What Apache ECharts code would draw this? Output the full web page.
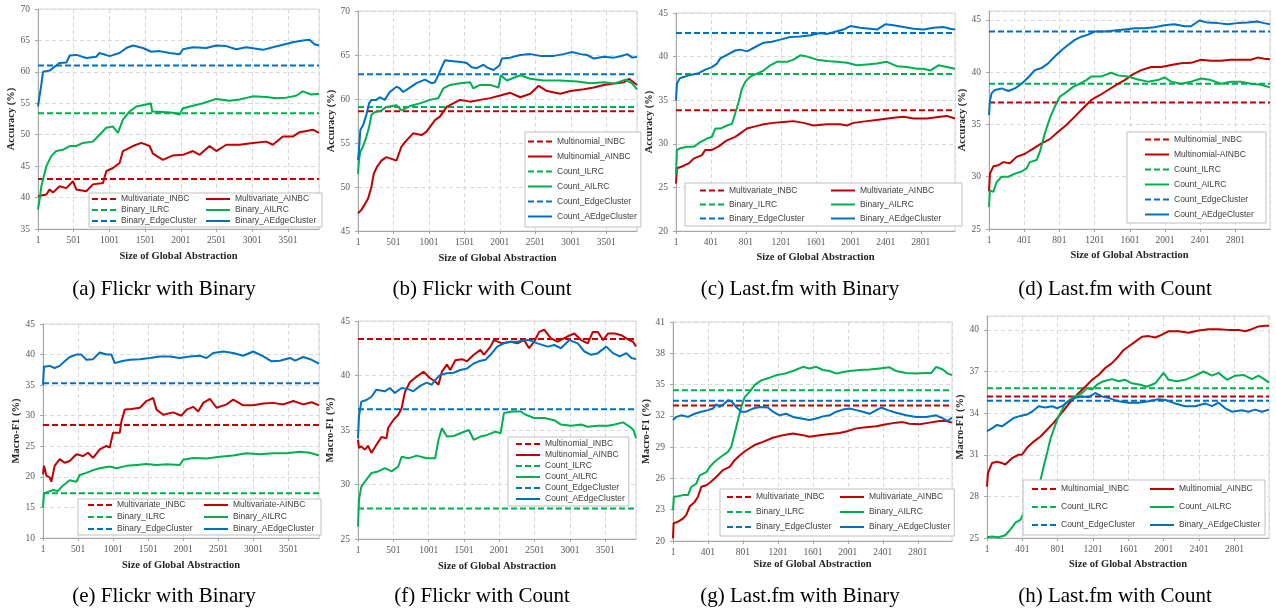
<!DOCTYPE html>
<html>
<head>
<meta charset="utf-8">
<title>Accuracy and Macro-F1 vs size of global abstraction</title>
<script src="https://cdn.jsdelivr.net/npm/echarts@6/dist/echarts.min.js"></script>
<style>
  html, body { margin: 0; padding: 0; background: #fff; }
  #chart { width: 1276px; height: 610px; }
</style>
</head>
<body>
<div id="chart"></div>
<script>
// values: [size of global abstraction, value]
// (a) Flickr with Binary - accuracy
var aRed = [[1,40.2],[118,40.5],[164,41.3],[211,40.8],[304,41.8],[397,41.5],[491,42.6],[537,41.3],[677,41.0],[770,42.1],[910,42.3],[957,44.2],[1050,44.7],[1143,45.5],[1190,47.4],[1330,48.2],[1447,48.7],[1563,48.2],[1610,47.0],[1750,46.0],[1890,46.7],[2030,46.8],[2170,47.4],[2263,46.8],[2403,48.2],[2496,47.4],[2636,48.4],[2823,48.4],[3009,48.7],[3196,48.9],[3289,48.4],[3429,49.7],[3569,49.7],[3662,50.4],[3849,50.8],[3935,50.3]];
var aGreen = [[1,38.1],[24,39.7],[48,41.8],[94,43.9],[118,45.0],[187,46.6],[257,47.4],[350,47.6],[443,48.2],[537,48.2],[630,48.7],[770,48.9],[863,50.0],[957,51.1],[1050,51.3],[1120,50.3],[1190,52.4],[1283,53.7],[1377,54.5],[1517,54.8],[1580,55.0],[1600,53.7],[1750,53.6],[1890,53.5],[1983,53.2],[2030,54.2],[2170,54.6],[2310,55.0],[2496,55.7],[2683,55.4],[2823,55.6],[3009,56.1],[3196,56.0],[3335,55.8],[3475,55.9],[3615,56.2],[3709,56.9],[3825,56.4],[3935,56.5]];
var aBlue = [[1,54.5],[48,58.0],[71,60.0],[165,60.2],[300,61.4],[400,61.5],[445,62.6],[540,62.7],[677,62.2],[817,62.4],[862,63.0],[1003,62.5],[1143,63.0],[1237,63.8],[1330,64.2],[1470,63.8],[1587,63.2],[1703,63.3],[1843,63.0],[1983,62.8],[2030,63.6],[2170,63.9],[2356,63.8],[2496,64.2],[2636,64.1],[2776,63.6],[2916,63.9],[3149,63.5],[3289,63.9],[3429,64.3],[3569,64.7],[3709,65.0],[3802,65.1],[3872,64.4],[3935,64.2]];
var aBase = [42.95, 53.4, 61.0];

// (b) Flickr with Count - accuracy
var bRed = [[1,47.0],[48,47.4],[95,48.0],[143,48.7],[190,50.0],[223,51.5],[270,52.3],[331,53.0],[402,53.4],[473,53.2],[543,53.0],[614,54.6],[685,55.3],[779,56.1],[897,55.9],[968,56.3],[1086,57.6],[1157,58.0],[1251,59.1],[1345,59.5],[1440,59.9],[1581,59.7],[1723,59.9],[1864,60.1],[2006,60.4],[2147,60.7],[2289,60.2],[2430,60.6],[2548,61.5],[2666,60.9],[2855,60.6],[2996,60.9],[3185,61.1],[3326,61.3],[3468,61.6],[3610,61.75],[3751,61.9],[3822,62.3],[3935,61.6]];
var bGreen = [[1,51.5],[15,53.05],[34,54.0],[72,54.6],[119,55.7],[157,56.8],[190,58.2],[237,58.5],[331,58.7],[402,59.1],[543,59.3],[614,58.7],[732,59.2],[874,59.5],[1015,59.9],[1133,60.1],[1204,61.2],[1298,61.6],[1440,61.8],[1581,61.9],[1628,61.2],[1723,61.6],[1864,61.6],[1982,61.3],[2015,62.7],[2100,62.1],[2289,62.7],[2430,62.3],[2619,62.1],[2855,62.1],[3091,62.0],[3280,61.8],[3468,61.9],[3610,61.75],[3775,62.2],[3869,61.75],[3935,61.1]];
var bBlue = [[1,53.05],[15,54.2],[34,56.5],[72,57.0],[119,58.2],[157,59.5],[190,59.9],[260,59.9],[308,60.2],[378,59.9],[449,60.8],[543,61.4],[591,61.2],[638,60.8],[732,61.3],[826,61.8],[944,62.2],[1039,61.8],[1086,61.9],[1133,62.7],[1180,63.6],[1227,64.4],[1345,64.3],[1463,64.2],[1534,64.1],[1605,63.6],[1676,63.5],[1770,63.9],[1817,63.6],[1911,63.3],[1996,63.8],[2029,64.6],[2147,64.7],[2289,65.0],[2430,65.1],[2572,64.9],[2760,64.9],[2902,65.1],[3020,65.35],[3138,65.1],[3232,65.0],[3326,64.6],[3468,64.8],[3610,64.7],[3704,64.85],[3798,65.1],[3869,64.7],[3935,64.8]];
var bBase = [58.6, 59.1, 62.8];

// (c) Last.fm with Binary - accuracy
var cRed = [[1,25.45],[12,27.2],[70,27.4],[146,27.75],[203,28.3],[298,28.7],[336,29.3],[412,29.3],[489,29.7],[584,30.4],[679,30.8],[736,31.2],[813,31.75],[908,32.0],[1003,32.25],[1117,32.4],[1232,32.5],[1346,32.6],[1460,32.4],[1575,32.1],[1727,32.25],[1879,32.25],[1956,32.1],[2032,32.4],[2184,32.6],[2337,32.8],[2489,33.0],[2603,33.1],[2718,32.9],[2870,32.9],[3022,33.1],[3098,33.2],[3192,32.9]];
var cGreen = [[1,26.5],[12,29.3],[50,29.5],[127,29.65],[203,29.65],[279,30.2],[355,30.6],[412,30.8],[450,31.75],[508,31.75],[584,32.1],[641,32.3],[679,33.5],[717,34.8],[755,36.3],[793,37.1],[851,37.7],[927,38.05],[1003,38.4],[1079,39.0],[1155,39.4],[1270,39.4],[1346,39.65],[1422,40.15],[1498,40.0],[1613,39.65],[1727,39.5],[1841,39.4],[1956,39.3],[2070,39.0],[2184,39.1],[2299,39.2],[2413,39.4],[2527,38.9],[2641,38.8],[2756,38.6],[2832,38.6],[2908,38.4],[3003,39.0],[3098,38.8],[3192,38.6]];
var cBlue = [[1,35.0],[12,36.9],[43,37.5],[70,37.6],[165,37.9],[260,38.1],[336,38.5],[412,38.8],[470,39.2],[508,39.8],[584,40.2],[679,40.7],[736,40.8],[813,40.6],[908,41.1],[1003,41.6],[1098,41.7],[1194,41.95],[1308,42.25],[1422,42.3],[1537,42.45],[1651,42.7],[1727,42.6],[1803,42.8],[1917,43.1],[1994,43.5],[2108,43.3],[2222,43.2],[2299,43.1],[2394,43.7],[2489,43.6],[2603,43.4],[2718,43.2],[2832,43.1],[2946,43.3],[3060,43.4],[3137,43.2],[3192,43.1]];
var cBase = [33.85, 38.0, 42.7];

// (d) Last.fm with Count - accuracy
var dRed = [[1,28.6],[12,30.3],[50,31.0],[107,31.1],[163,31.4],[239,31.3],[314,31.9],[409,32.2],[503,32.7],[597,33.2],[692,33.6],[786,34.3],[880,34.95],[975,35.75],[1069,36.55],[1163,37.35],[1258,37.8],[1352,38.3],[1447,38.8],[1541,39.25],[1635,39.8],[1729,40.2],[1843,40.5],[1956,40.5],[2069,40.7],[2182,40.85],[2296,40.9],[2409,41.2],[2522,41.1],[2635,41.1],[2748,41.2],[2862,41.2],[2975,41.2],[3050,41.4],[3126,41.3],[3192,41.25]];
var dGreen = [[1,27.1],[12,28.7],[50,28.55],[88,29.5],[144,30.0],[220,30.0],[295,30.3],[371,30.5],[428,30.8],[465,31.4],[541,31.6],[579,32.4],[635,34.15],[692,35.6],[748,36.7],[805,37.65],[880,38.1],[956,38.6],[1031,38.9],[1107,39.25],[1163,39.6],[1277,39.6],[1390,39.95],[1465,39.7],[1578,39.6],[1692,39.3],[1805,39.1],[1918,39.25],[1994,39.5],[2069,39.1],[2182,38.9],[2296,39.1],[2409,39.4],[2522,39.25],[2635,38.9],[2748,39.1],[2862,39.1],[2975,38.9],[3088,38.8],[3192,38.55]];
var dBlue = [[1,35.9],[12,37.3],[31,38.0],[69,38.3],[144,38.45],[220,38.2],[295,38.45],[371,38.9],[446,39.5],[522,40.2],[597,40.4],[673,40.85],[748,41.5],[824,42.1],[899,42.6],[975,43.1],[1050,43.4],[1126,43.6],[1201,43.9],[1314,43.9],[1428,44.0],[1541,44.1],[1654,44.2],[1767,44.2],[1880,44.3],[1994,44.5],[2107,44.6],[2220,44.4],[2296,44.4],[2390,44.95],[2484,44.75],[2598,44.7],[2711,44.6],[2824,44.7],[2937,44.75],[3050,44.85],[3126,44.7],[3192,44.6]];
var dBase = [37.1, 38.9, 43.9];

// (e) Flickr with Binary - macro-F1
var eRed = [[1,20.4],[15,21.8],[49,20.2],[96,19.9],[120,19.2],[167,21.8],[239,22.9],[310,22.3],[382,22.6],[477,23.7],[572,23.4],[643,23.95],[715,23.1],[810,24.5],[905,25.05],[952,24.8],[1000,27.2],[1095,27.2],[1119,29.1],[1167,31.0],[1262,31.1],[1381,31.3],[1476,32.4],[1571,32.9],[1618,31.0],[1714,30.15],[1856,30.55],[1975,30.0],[2047,31.0],[2142,31.45],[2213,30.7],[2285,32.1],[2380,32.75],[2475,31.3],[2618,31.85],[2712,32.65],[2855,31.7],[2998,31.7],[3141,32.0],[3283,32.1],[3426,31.85],[3569,32.4],[3711,31.85],[3830,32.2],[3935,31.7]];
var eGreen = [[1,15.0],[15,17.3],[72,17.55],[144,17.85],[215,17.7],[286,18.6],[382,19.45],[477,19.2],[524,20.3],[619,20.65],[715,21.1],[810,21.4],[952,21.7],[1048,21.4],[1190,21.8],[1333,21.95],[1476,22.1],[1618,21.95],[1761,22.05],[1951,21.95],[1999,22.8],[2142,23.1],[2332,23.0],[2522,23.3],[2712,23.5],[2902,23.85],[3093,23.7],[3283,23.85],[3473,23.85],[3663,24.1],[3806,23.95],[3935,23.5]];
var eBlue = [[1,35.05],[15,38.05],[49,38.05],[96,38.15],[167,37.8],[239,38.15],[310,38.9],[382,39.6],[477,40.0],[548,40.0],[619,39.15],[715,39.25],[810,40.35],[905,40.0],[976,40.0],[1024,38.6],[1119,38.9],[1238,39.15],[1381,39.25],[1523,39.45],[1666,39.7],[1809,39.7],[1951,39.45],[2094,39.7],[2237,39.8],[2332,39.45],[2427,40.25],[2570,40.5],[2712,40.25],[2855,39.8],[2998,40.5],[3141,39.7],[3260,38.9],[3378,39.0],[3521,39.45],[3593,39.0],[3711,39.6],[3830,39.15],[3935,38.5]];
var eBase = [28.5, 17.3, 35.3];

// (f) Flickr with Count - macro-F1
var fRed = [[1,34.1],[15,33.35],[48,33.5],[96,33.2],[143,33.55],[191,32.9],[262,33.65],[333,34.35],[405,34.25],[428,35.2],[500,35.9],[571,36.4],[618,37.0],[666,38.5],[737,39.4],[832,39.9],[927,40.35],[1022,39.75],[1093,39.45],[1140,39.15],[1188,40.35],[1259,41.0],[1307,40.5],[1378,41.4],[1473,41.5],[1544,41.3],[1639,41.9],[1734,42.35],[1781,41.9],[1876,42.65],[1924,43.25],[2043,42.95],[2161,43.1],[2256,42.95],[2351,43.25],[2422,42.5],[2494,43.1],[2565,44.0],[2636,44.2],[2731,43.4],[2826,43.1],[2968,43.6],[3063,43.85],[3158,43.25],[3253,42.95],[3324,44.0],[3396,44.0],[3467,43.25],[3538,43.85],[3633,43.85],[3728,43.7],[3823,43.3],[3894,43.1],[3935,42.65]];
var fGreen = [[1,26.15],[15,28.6],[48,29.8],[120,30.45],[191,31.05],[286,31.2],[381,31.5],[476,31.2],[571,31.65],[618,32.55],[713,32.4],[832,32.65],[974,32.4],[1093,32.4],[1140,34.1],[1188,35.15],[1259,34.4],[1354,34.45],[1449,34.7],[1568,35.0],[1639,34.1],[1734,34.4],[1829,34.55],[1947,34.85],[2019,34.7],[2066,36.55],[2185,36.7],[2304,36.7],[2375,36.4],[2494,36.1],[2636,36.1],[2778,35.9],[2873,35.5],[3016,35.4],[3158,35.5],[3253,35.3],[3396,35.4],[3538,35.4],[3633,35.5],[3752,35.7],[3847,35.3],[3900,35.0],[3935,34.25]];
var fBlue = [[1,34.25],[15,36.25],[48,37.6],[120,37.75],[191,38.05],[262,38.7],[381,38.55],[452,38.85],[523,38.4],[618,38.85],[713,38.75],[784,38.55],[879,39.05],[974,39.35],[1045,39.15],[1093,39.6],[1164,40.05],[1259,40.2],[1354,40.25],[1449,40.5],[1544,40.65],[1639,41.1],[1710,41.3],[1805,41.45],[1876,41.9],[1971,42.65],[2066,42.95],[2161,43.1],[2256,43.1],[2327,43.2],[2422,43.25],[2541,42.95],[2683,42.65],[2778,42.8],[2873,42.5],[2992,43.25],[3111,42.95],[3206,42.2],[3301,41.9],[3396,42.05],[3514,42.65],[3609,42.05],[3704,41.75],[3799,42.05],[3870,41.6],[3935,41.5]];
var fBase = [43.35, 27.8, 36.9];

// (g) Last.fm with Binary - macro-F1
var gRed = [[1,20.25],[8,21.7],[58,21.85],[115,22.15],[153,22.5],[191,23.3],[249,23.75],[287,24.25],[325,25.2],[382,25.35],[439,25.7],[515,26.3],[572,26.8],[649,27.1],[706,27.75],[763,28.2],[839,28.7],[934,29.2],[1030,29.5],[1144,29.9],[1258,30.15],[1373,30.3],[1487,30.15],[1563,30.0],[1677,30.15],[1792,30.25],[1906,30.35],[1982,30.5],[2097,30.8],[2211,30.9],[2325,31.0],[2440,31.2],[2554,31.35],[2630,31.4],[2706,31.25],[2821,31.2],[2935,31.35],[3049,31.5],[3125,31.5],[3192,31.35]];
var gGreen = [[1,22.95],[12,24.25],[58,24.3],[115,24.4],[172,24.4],[210,25.2],[268,25.5],[306,26.3],[382,26.6],[420,27.1],[477,27.6],[553,28.1],[630,28.55],[668,29.05],[706,30.3],[744,31.6],[782,32.85],[820,33.8],[877,34.3],[934,34.95],[1010,35.4],[1087,35.6],[1182,35.9],[1277,36.05],[1373,36.3],[1487,36.7],[1563,36.55],[1639,36.7],[1716,36.4],[1792,36.3],[1868,36.05],[1944,36.2],[2020,36.3],[2135,36.4],[2249,36.45],[2363,36.55],[2478,36.65],[2554,36.3],[2668,36.1],[2782,36.05],[2897,36.1],[2954,36.1],[3011,36.7],[3087,36.45],[3144,36.05],[3192,35.9]];
var gBlue = [[1,31.6],[39,31.9],[96,32.05],[172,31.9],[249,32.2],[325,32.4],[401,32.55],[458,32.7],[496,33.1],[534,32.85],[592,33.2],[630,33.5],[668,33.4],[725,32.85],[782,32.4],[839,32.4],[915,32.7],[992,32.85],[1087,32.8],[1144,32.4],[1220,32.05],[1296,32.2],[1373,31.9],[1468,31.75],[1563,31.6],[1639,31.75],[1716,31.95],[1792,32.05],[1868,32.4],[1944,32.6],[2020,32.7],[2097,32.55],[2173,32.4],[2249,32.2],[2325,32.55],[2382,32.8],[2458,32.55],[2554,32.3],[2668,32.05],[2782,31.9],[2897,31.9],[3011,32.05],[3087,31.75],[3144,31.5],[3192,31.85]];
var gBase = [33.0, 34.45, 33.45];

// (h) Last.fm with Count - macro-F1
var hRed = [[1,28.7],[12,29.7],[58,30.4],[114,30.5],[171,30.4],[208,30.3],[284,30.75],[359,31.0],[397,31.0],[453,31.5],[529,31.95],[604,32.3],[680,32.8],[755,33.3],[812,33.75],[887,34.35],[962,34.95],[1038,35.45],[1113,35.9],[1189,36.4],[1264,36.75],[1339,37.25],[1415,37.6],[1490,38.1],[1547,38.55],[1603,38.8],[1679,39.15],[1754,39.5],[1829,39.55],[1905,39.45],[1980,39.65],[2056,39.9],[2169,39.9],[2282,39.8],[2395,39.95],[2508,40.05],[2621,40.05],[2734,40.0],[2847,40.0],[2922,39.9],[2997,40.05],[3073,40.25],[3148,40.3],[3192,40.3]];
var hGreen = [[1,25.05],[58,25.1],[133,25.05],[208,25.2],[265,25.6],[322,26.1],[378,26.3],[435,27.05],[491,27.4],[548,28.0],[604,29.1],[642,30.15],[680,31.1],[717,32.1],[755,32.8],[793,33.5],[831,34.0],[887,34.7],[944,35.0],[1000,35.2],[1076,35.45],[1132,35.8],[1189,35.7],[1245,36.05],[1320,36.3],[1415,36.45],[1490,36.3],[1565,36.4],[1641,36.15],[1735,36.05],[1810,35.9],[1905,36.15],[1999,36.9],[2056,36.4],[2150,36.3],[2244,36.4],[2357,36.7],[2451,37.0],[2546,36.7],[2621,36.9],[2716,36.4],[2810,36.7],[2904,36.75],[2997,36.45],[3073,36.7],[3148,36.4],[3192,36.2]];
var hBlue = [[1,32.7],[58,32.9],[114,33.15],[171,33.05],[227,33.3],[303,33.65],[378,33.8],[453,33.9],[510,34.1],[585,34.5],[661,34.4],[736,34.5],[793,34.35],[849,34.5],[925,34.85],[1000,35.1],[1076,35.2],[1151,35.15],[1226,35.45],[1302,35.2],[1377,35.1],[1490,34.85],[1603,34.75],[1716,34.75],[1829,34.85],[1942,35.0],[2018,34.95],[2131,34.7],[2244,34.5],[2357,34.5],[2470,34.7],[2546,34.5],[2621,34.75],[2697,34.35],[2772,34.1],[2885,34.2],[2960,34.1],[3035,34.25],[3111,34.1],[3192,34.25]];
var hBase = [35.2, 35.8, 34.9];

// legend names, in legend order (baseline, adaptive) x (NB, LR, EdgeCluster)
var namesMultivariate = ['Multivariate_INBC', 'Multivariate_AINBC', 'Binary_ILRC', 'Binary_AILRC', 'Binary_EdgeCluster', 'Binary_AEdgeCluster'];
var namesMultinomial = ['Multinomial_INBC', 'Multinomial_AINBC', 'Count_ILRC', 'Count_AILRC', 'Count_EdgeCluster', 'Count_AEdgeCluster'];
var namesD = ['Multinomial_INBC', 'Multinomial-AINBC', 'Count_ILRC', 'Count_AILRC', 'Count_EdgeCluster', 'Count_AEdgeCluster'];
var namesE = ['Multivariate_INBC', 'Multivariate-AINBC', 'Binary_ILRC', 'Binary_AILRC', 'Binary_EdgeCluster', 'Binary_AEdgeCluster'];
var namesH = ['Multinomial_INBC', 'Multinomial_AINBC', 'Count_ILRC', 'Count_AILRC', 'Count_EdgeCluster', 'Binary_AEdgeCluster'];

var colors = ['#c00000', '#00b050', '#0070c0'];

// layout of the eight panels
var panels = [
  {grid: [38, 9, 281, 220], xMax: 3935, xStep: 500, yMin: 35, yMax: 70, yStep: 5, yName: 'Accuracy (%)', yGap: 20, xGap: 22,
   lines: [aRed, aGreen, aBlue], base: aBase, names: namesMultivariate, caption: '(a) Flickr with Binary', cap: [164, 289],
   legend: {left: 89, top: 193, cols: 2, textW: 83, lh: 10, gap: 1, pad: [1, 4, 1, 2]}},
  {grid: [358, 11, 279, 220], xMax: 3935, xStep: 500, yMin: 45, yMax: 70, yStep: 5, yName: 'Accuracy (%)', yGap: 20, xGap: 22,
   lines: [bRed, bGreen, bBlue], base: bBase, names: namesMultinomial, caption: '(b) Flickr with Count', cap: [482, 289],
   legend: {left: 525, top: 132, cols: 1, textW: 76, lh: 11, gap: 4, pad: [4, 4, 5, 2]}},
  {grid: [676, 13, 279, 218], xMax: 3192, xStep: 400, yMin: 20, yMax: 45, yStep: 5, yName: 'Accuracy (%)', yGap: 20, xGap: 21,
   lines: [cRed, cGreen, cBlue], base: cBase, names: namesMultivariate, caption: '(c) Last.fm with Binary', cap: [800, 289],
   legend: {left: 685, top: 183, cols: 2, textW: 98, lh: 11, gap: 3, pad: [2, 4, 2, 14]}},
  {grid: [989, 11, 281, 218], xMax: 3192, xStep: 400, yMin: 25, yMax: 45.86, yStep: 5, yName: 'Accuracy (%)', yGap: 21, xGap: 21,
   lines: [dRed, dGreen, dBlue], base: dBase, names: namesD, caption: '(d) Last.fm with Count', cap: [1115, 289],
   legend: {left: 1127, top: 132, cols: 1, textW: 88, lh: 11, gap: 4, pad: [2, 4, 3, 17]}},
  {grid: [43, 324, 276, 214], xMax: 3935, xStep: 500, yMin: 10, yMax: 45, yStep: 5, yName: 'Macro-F1 (%)', yGap: 17, xGap: 22,
   lines: [eRed, eGreen, eBlue], base: eBase, names: namesE, caption: '(e) Flickr with Binary', cap: [164, 596],
   legend: {left: 78, top: 499, cols: 2, textW: 84, lh: 10, gap: 2, pad: [1, 4, 1, 9]}},
  {grid: [358, 321, 278, 218], xMax: 3935, xStep: 500, yMin: 25, yMax: 45, yStep: 5, yName: 'Macro-F1 (%)', yGap: 22, xGap: 22,
   lines: [fRed, fGreen, fBlue], base: fBase, names: namesMultinomial, caption: '(f) Flickr with Count', cap: [482, 596],
   legend: {left: 508, top: 437, cols: 1, textW: 73, lh: 10, gap: 1, pad: [2, 4, 2, 7]}},
  {grid: [673, 322, 279, 219], xMax: 3192, xStep: 400, yMin: 20, yMax: 41, yStep: 3, yName: 'Macro-F1 (%)', yGap: 20, xGap: 18,
   lines: [gRed, gGreen, gBlue], base: gBase, names: namesMultivariate, caption: '(g) Last.fm with Binary', cap: [800, 596],
   legend: {left: 720, top: 489, cols: 2, textW: 80, lh: 12, gap: 3, pad: [2, 4, 3, 6]}},
  {grid: [987, 316, 282, 222], xMax: 3192, xStep: 400, yMin: 25, yMax: 41, yStep: 3, yName: 'Macro-F1 (%)', yGap: 19, xGap: 21,
   lines: [hRed, hGreen, hBlue], base: hBase, names: namesH, caption: '(h) Last.fm with Count', cap: [1115, 596],
   legend: {left: 1023, top: 480, cols: 2, textW: 82, lh: 12, gap: 6, pad: [3, 4, 4, 8]}}
];

var tickFont = {fontFamily: 'Liberation Serif', fontSize: 9.5, color: '#595959'};
var nameFont = {fontFamily: 'Liberation Serif', fontSize: 10.5, fontWeight: 'bold', color: '#262626'};

var grids = [], xAxes = [], yAxes = [], series = [], legends = [], captions = [];

panels.forEach(function (p, i) {
  grids.push({
    left: p.grid[0], top: p.grid[1], width: p.grid[2], height: p.grid[3],
    show: true, borderColor: '#d9d9d9', borderWidth: 1, backgroundColor: 'transparent'
  });

  // axes count from 0; labels add the start value back so ticks land on 1, 501, ... / 20, 23, ...
  var yRange = p.yMax - p.yMin;
  var yOnTick = Math.abs(yRange / p.yStep - Math.round(yRange / p.yStep)) < 1e-6;
  xAxes.push({
    gridIndex: i, type: 'value', min: 0, max: p.xMax - 1, interval: p.xStep,
    name: 'Size of Global Abstraction', nameLocation: 'middle', nameGap: p.xGap, nameTextStyle: nameFont,
    axisLine: {show: true, lineStyle: {color: '#a6a6a6'}},
    axisTick: {show: true, length: 3, lineStyle: {color: '#a6a6a6'}},
    axisLabel: Object.assign({margin: 6, showMaxLabel: false, formatter: function (v) { return String(Math.round(v + 1)); }}, tickFont),
    splitLine: {show: true, lineStyle: {color: '#d9d9d9', type: [4, 3]}}
  });
  yAxes.push({
    gridIndex: i, type: 'value', min: 0, max: yRange, interval: p.yStep,
    name: p.yName, nameLocation: 'middle', nameGap: p.yGap, nameTextStyle: nameFont,
    axisLine: {show: true, lineStyle: {color: '#a6a6a6'}},
    axisTick: {show: true, length: 3, lineStyle: {color: '#a6a6a6'}},
    axisLabel: Object.assign({margin: 8, showMaxLabel: yOnTick, formatter: function (v) { return String(Math.round(v + p.yMin)); }}, tickFont),
    splitLine: {show: true, lineStyle: {color: '#d9d9d9', type: [4, 3]}}
  });

  p.lines.forEach(function (line, k) {
    series.push({
      type: 'line', name: p.names[2 * k], xAxisIndex: i, yAxisIndex: i,
      symbol: 'none', silent: true, animation: false,
      itemStyle: {color: colors[k]},
      lineStyle: {color: colors[k], width: 2, type: [6, 3]},
      data: [[0, p.base[k] - p.yMin], [p.xMax - 1, p.base[k] - p.yMin]]
    });
  });
  p.lines.forEach(function (line, k) {
    series.push({
      type: 'line', name: p.names[2 * k + 1], xAxisIndex: i, yAxisIndex: i,
      symbol: 'none', silent: true, animation: false,
      itemStyle: {color: colors[k]},
      lineStyle: {color: colors[k], width: 2},
      data: line.map(function (pt) { return [pt[0] - 1, pt[1] - p.yMin]; })
    });
  });

  var L = p.legend;
  var itemW = 24;
  legends.push({
    data: p.names.slice(), left: L.left, top: L.top,
    orient: L.cols === 2 ? 'horizontal' : 'vertical',
    width: L.cols === 2 ? 2 * (itemW + 5 + L.textW) + L.gap + 4 : null,
    itemWidth: itemW, itemHeight: 8, itemGap: L.gap, padding: L.pad,
    backgroundColor: '#fff', borderColor: '#bfbfbf', borderWidth: 1, borderRadius: 0,
    selectedMode: false, z: 6,
    // line series always add a marker to the legend icon; hide it so only the (dashed) line shows
    itemStyle: {color: 'transparent', borderColor: 'transparent', borderWidth: 0},
    textStyle: {fontFamily: 'Liberation Sans', fontSize: 8.5, color: '#404040', width: L.textW, lineHeight: L.lh}
  });

  captions.push({
    type: 'text', x: p.cap[0], y: p.cap[1], silent: true,
    style: {text: p.caption, fontFamily: 'Liberation Serif', fontSize: 21, fill: '#000', align: 'center', verticalAlign: 'middle'}
  });
});

var option = {
  backgroundColor: '#fff',
  animation: false,
  grid: grids,
  xAxis: xAxes,
  yAxis: yAxes,
  legend: legends,
  series: series,
  graphic: captions
};

var myChart = echarts.init(document.getElementById('chart'));
myChart.setOption(option);
</script>
</body>
</html>
